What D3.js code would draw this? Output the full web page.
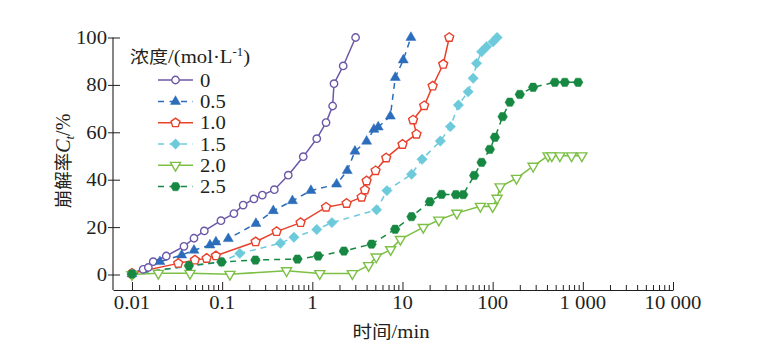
<!DOCTYPE html>
<html>
<head>
<meta charset="utf-8">
<script src="https://cdn.jsdelivr.net/npm/d3@7"></script>
<style>
  html, body { margin: 0; padding: 0; background: #fff; }
  svg { display: block; }
  text { font-family: "Liberation Serif", "Times New Roman", serif; fill: #231f20; }
  .cjk { font-family: "Noto Sans CJK SC", "Noto Sans", sans-serif; }
</style>
</head>
<body>
<svg id="chart" width="757" height="347"></svg>
<script>
// ---------- data ----------
const xTickValues = [0.01, 0.1, 1, 10, 100, 1000, 10000];
const xTickLabels = ["0.01", "0.1", "1", "10", "100", "1 000", "10 000"];
const yTickValues = [0, 20, 40, 60, 80, 100];
const yTickLabels = ["0", "20", "40", "60", "80", "100"];

const seriesNames = ["0", "0.5", "1.0", "1.5", "2.0", "2.5"];

const time_0 = [0.01, 0.0133, 0.0152, 0.0172, 0.024, 0.0377, 0.0487, 0.0634, 0.097, 0.135, 0.171, 0.225, 0.279, 0.379, 0.541, 0.793, 1.12, 1.42, 1.68, 1.74, 2.20, 3.02];
const rate_0 = [0.5, 2.2, 3.0, 5.4, 7.8, 11.9, 15.3, 18.4, 22.7, 25.7, 29.3, 31.9, 33.5, 35.8, 41.9, 49.7, 57.3, 64.1, 71.1, 80.5, 88.0, 100];

const time_05 = [0.01, 0.0204, 0.0356, 0.0487, 0.0733, 0.0853, 0.117, 0.237, 0.369, 0.602, 0.965, 1.86, 2.44, 2.97, 4.0, 4.82, 5.38, 7.33, 8.32, 10.2, 12.4];
const rate_05 = [0.3, 5.4, 8.2, 10.2, 12.4, 13.7, 15.1, 21.5, 26.9, 31.1, 35.4, 38.1, 43.8, 52.0, 56.2, 61.2, 62.2, 66.8, 83.1, 90.5, 100];

const time_1 = [0.01, 0.0326, 0.0499, 0.0673, 0.0853, 0.235, 0.402, 0.741, 1.42, 2.40, 3.52, 3.83, 4.0, 5.03, 6.6, 10.0, 14.3, 13.1, 17.4, 21.6, 28.3, 33.0];
const rate_1 = [0.5, 4.7, 6.1, 6.8, 7.9, 13.8, 18.1, 21.9, 28.4, 30.0, 32.6, 35.7, 39.5, 43.8, 49.2, 54.9, 59.2, 65.2, 71.2, 79.5, 88.7, 100];

const time_15 = [0.01, 0.0986, 0.157, 0.443, 0.625, 1.12, 1.65, 5.16, 6.72, 12.6, 16.5, 26.3, 34.0, 41.7, 53.5, 60.8, 66.3, 75.4, 85.6, 101, 112];
const rate_15 = [0.2, 5.3, 8.9, 13.2, 15.7, 19.0, 21.9, 27.3, 35.4, 42.3, 48.6, 56.3, 62.4, 71.5, 77.1, 82.8, 89.1, 94.0, 96.1, 98.2, 100];

const time_2 = [0.01, 0.0196, 0.044, 0.122, 0.518, 1.21, 2.78, 4.21, 5.11, 7.39, 9.48, 17.0, 25.3, 40.1, 73.1, 100, 112, 121, 184, 281, 412, 453, 556, 750, 975];
const rate_2 = [0, 0.5, 0.5, 0.1, 1.6, 0.4, 0.4, 3.8, 7.4, 10.5, 14.8, 19.9, 23.0, 25.9, 28.8, 28.7, 32.2, 37.0, 40.6, 45.7, 50.1, 50.1, 50.1, 50.1, 50.1];

const time_25 = [0.01, 0.0428, 0.0986, 0.234, 0.684, 1.16, 2.24, 4.54, 8.29, 12.6, 20.1, 27.1, 39.1, 47.1, 62.4, 75.4, 93.1, 106, 129, 155, 200, 281, 489, 631, 887];
const rate_25 = [0.2, 3.7, 5.3, 6.1, 6.5, 7.8, 9.9, 12.8, 19.1, 24.4, 30.7, 33.8, 33.7, 33.7, 41.8, 47.3, 52.8, 57.9, 66.6, 72.7, 76.0, 79.0, 81.1, 81.1, 81.1];

// ---------- styling ----------
const colors = ["#6c58a8", "#2c6dbb", "#e8412c", "#6dcadb", "#7cbf45", "#178841"];
const dashed = [false, true, false, true, false, true];
const filled = [false, true, false, true, false, true];

// regular polygon symbol type (size = circumradius^2)
function polygonType(n, rot) {
  return {
    draw(ctx, size) {
      const r = Math.sqrt(size);
      for (let i = 0; i < n; i++) {
        const a = rot + i * 2 * Math.PI / n;
        const px = r * Math.cos(a), py = r * Math.sin(a);
        if (i === 0) ctx.moveTo(px, py); else ctx.lineTo(px, py);
      }
      ctx.closePath();
    }
  };
}
const circleType = { draw(ctx, size) { const r = Math.sqrt(size); ctx.moveTo(r, 0); ctx.arc(0, 0, r, 0, 2 * Math.PI); ctx.closePath(); } };
const symbolTypes = [
  circleType,
  polygonType(3, -Math.PI / 2),
  polygonType(5, -Math.PI / 2),
  polygonType(4, -Math.PI / 2),
  polygonType(3, Math.PI / 2),
  polygonType(6, 0)
];
const symbolRadius = [3.7, 5.8, 4.7, 5.2, 5.8, 4.8];

const series = [
  { t: time_0, c: rate_0 },
  { t: time_05, c: rate_05 },
  { t: time_1, c: rate_1 },
  { t: time_15, c: rate_15 },
  { t: time_2, c: rate_2 },
  { t: time_25, c: rate_25 }
];

// ---------- scales ----------
const x = d3.scaleLog().domain([0.00616, 10000]).range([113, 673]);
const y = d3.scaleLinear().domain([-6.54, 100]).range([290, 37.5]);

const svg = d3.select("#chart");
const SX = 1.12; // horizontal stretch of the text of the reference
const FS = 18.5;

// ---------- axes ----------
const xAxis = d3.axisBottom(x).tickValues(xTickValues).tickSize(-8).tickSizeOuter(0).tickFormat("");
const gx = svg.append("g").attr("transform", "translate(0,290)").call(xAxis);
const minor = [];
for (let e = -2; e < 4; e++) for (let k = 2; k <= 9; k++) minor.push(k * Math.pow(10, e));
const gxm = svg.append("g").attr("transform", "translate(0,290)")
  .call(d3.axisBottom(x).tickValues(minor).tickSize(-5).tickSizeOuter(0).tickFormat(""));
gxm.select(".domain").remove();
[gx, gxm].forEach(g => {
  g.select(".domain").attr("stroke", "#231f20").attr("stroke-width", 1.1);
  g.selectAll(".tick line").attr("stroke", "#231f20").attr("stroke-width", 1);
});
xTickValues.forEach((v, i) => {
  svg.append("text")
    .attr("transform", `translate(${x(v)},309) scale(${SX},1)`)
    .attr("text-anchor", "middle")
    .attr("font-size", FS)
    .text(xTickLabels[i]);
});

// y axis
const yAxis = d3.axisLeft(y).tickValues(yTickValues).tickSize(5).tickSizeOuter(0).tickFormat("");
const gy = svg.append("g").attr("transform", "translate(113,0)").call(yAxis);
gy.select(".domain").attr("stroke", "#231f20").attr("stroke-width", 1.1)
  .attr("d", `M0,${y(100)}V290`);
gy.selectAll(".tick line").attr("stroke", "#231f20").attr("stroke-width", 1).attr("x1", 7);
yTickValues.forEach((v, i) => {
  svg.append("text")
    .attr("transform", `translate(107,${y(v) + 6.5}) scale(${SX},1)`)
    .attr("text-anchor", "end")
    .attr("font-size", FS)
    .text(yTickLabels[i]);
});

// axis titles
const xt = svg.append("text")
  .attr("transform", `translate(391,338) scale(${SX},1)`)
  .attr("text-anchor", "middle")
  .attr("font-size", FS);
xt.append("tspan").attr("class", "cjk").attr("font-size", 17.5).text("时间");
xt.append("tspan").text("/min");

const yt = svg.append("text")
  .attr("transform", "translate(70,161) rotate(-90)")
  .attr("text-anchor", "middle")
  .attr("font-size", 20);
yt.append("tspan").attr("class", "cjk").attr("font-size", 18.5).text("崩解率");
yt.append("tspan").attr("font-style", "italic").text("C");
yt.append("tspan").attr("font-style", "italic").attr("font-size", 13).attr("dy", 4).text("t");
yt.append("tspan").attr("dy", -4).text("/%");

// ---------- series ----------
const line = d3.line().x(d => x(d[0])).y(d => y(d[1]));
series.forEach((s, i) => {
  const pts = s.t.map((t, j) => [t, s.c[j]]);
  svg.append("path")
    .attr("d", line(pts))
    .attr("fill", "none")
    .attr("stroke", colors[i])
    .attr("stroke-width", 1.5)
    .attr("stroke-dasharray", dashed[i] ? "6,5" : null);
});
series.forEach((s, i) => {
  const pts = s.t.map((t, j) => [t, s.c[j]]);
  const sym = d3.symbol().type(symbolTypes[i]).size(symbolRadius[i] * symbolRadius[i]);
  svg.append("g").selectAll("path").data(pts).join("path")
    .attr("transform", d => `translate(${x(d[0])},${y(d[1])})`)
    .attr("d", sym)
    .attr("fill", filled[i] ? colors[i] : "#fff")
    .attr("stroke", colors[i])
    .attr("stroke-width", filled[i] ? 0.5 : 1.4);
});

// ---------- legend ----------
const lt = svg.append("text")
  .attr("transform", `translate(130,63) scale(${SX},1)`)
  .attr("font-size", FS);
lt.append("tspan").attr("class", "cjk").attr("font-size", 17).text("浓度");
lt.append("tspan").text("/(mol·L");
lt.append("tspan").attr("font-size", 11.5).attr("dy", -7).text("-1");
lt.append("tspan").attr("dy", 7).text(")");

const legendY = [80, 101.5, 122.8, 144, 165.3, 186.6];
seriesNames.forEach((name, i) => {
  const cy = legendY[i];
  const g = svg.append("g");
  g.append("line").attr("x1", 158).attr("x2", 193).attr("y1", cy).attr("y2", cy)
    .attr("stroke", colors[i]).attr("stroke-width", 1.5)
    .attr("stroke-dasharray", dashed[i] ? "6,5.5" : null);
  const sym = d3.symbol().type(symbolTypes[i]).size(symbolRadius[i] * symbolRadius[i]);
  g.append("path").attr("transform", `translate(175.5,${cy})`).attr("d", sym)
    .attr("fill", filled[i] ? colors[i] : "#fff")
    .attr("stroke", colors[i]).attr("stroke-width", filled[i] ? 0.5 : 1.4);
  g.append("text").attr("transform", `translate(200,${cy + 6.5}) scale(${SX},1)`)
    .attr("font-size", FS).text(name);
});
</script>
</body>
</html>
